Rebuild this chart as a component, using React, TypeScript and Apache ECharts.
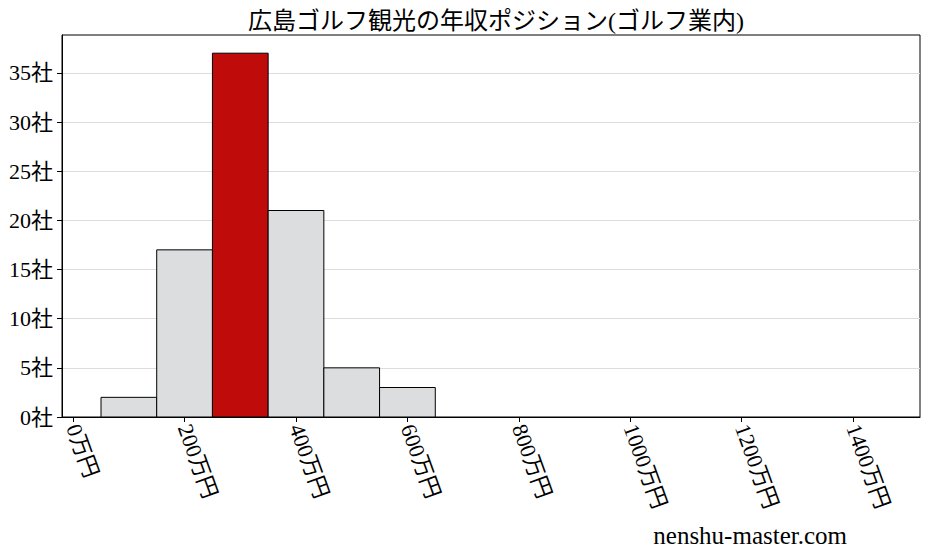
import React, { useEffect, useRef } from "react";
import * as echarts from "echarts";

const binStarts = [50, 150, 250, 350, 450, 550];
const binEnds = [150, 250, 350, 450, 550, 650];
const counts = [2, 17, 37, 21, 5, 3];
const highlightIndex = 2;
const xTicks = [0, 200, 400, 600, 800, 1000, 1200, 1400];
const yTicks = [0, 5, 10, 15, 20, 25, 30, 35];
const titleText = "広島ゴルフ観光の年収ポジション(ゴルフ業内)";
const watermark = "nenshu-master.com";

const FONT = "Liberation Serif, Noto Sans CJK JP, serif";

export default function App() {
  const ref = useRef<HTMLDivElement>(null);
  useEffect(() => {
    if (!ref.current) return;
    const chart = echarts.init(ref.current, null, { renderer: "svg" });
    const data = binStarts.map((s, i) => [s, binEnds[i], counts[i], i === highlightIndex ? 1 : 0]);
    chart.setOption({
      animation: false,
      backgroundColor: "#ffffff",
      textStyle: { fontFamily: FONT },
      title: {
        text: titleText,
        left: 491,
        textAlign: "center",
        top: 4,
        textStyle: { fontFamily: FONT, fontSize: 24, fontWeight: "normal", color: "#000" },
      },
      graphic: [
        {
          type: "text",
          right: 81,
          top: 523,
          style: { text: watermark, font: `25px ${FONT}`, fill: "#000" },
        },
      ],
      grid: {
        left: 62,
        right: 8,
        top: 35,
        bottom: 140,
        show: true,
        borderColor: "#000",
        borderWidth: 1,
        backgroundColor: "transparent",
      },
      xAxis: {
        type: "value",
        min: -20,
        max: 1520,
        axisLine: { show: true, onZero: false, lineStyle: { color: "#000", width: 1 } },
        axisTick: { show: true, customValues: xTicks, length: 5, lineStyle: { color: "#000" } },
        axisLabel: {
          customValues: xTicks,
          rotate: -70,
          margin: 8,
          fontSize: 22,
          fontFamily: FONT,
          color: "#000",
          formatter: (v: number) => `${v}万円`,
        },
        splitLine: { show: false },
      },
      yAxis: {
        type: "value",
        min: 0,
        max: 38.85,
        axisLine: { show: true, onZero: false, lineStyle: { color: "#000", width: 1 } },
        axisTick: { show: true, customValues: yTicks, length: 5, lineStyle: { color: "#000" } },
        axisLabel: {
          customValues: yTicks,
          margin: 9,
          fontSize: 22,
          fontFamily: FONT,
          color: "#000",
          formatter: (v: number) => `${v}社`,
        },
        splitLine: { show: true, lineStyle: { color: "#dddddd", width: 1 } },
      },
      series: [
        {
          type: "custom",
          data,
          encode: { x: [0, 1], y: 2 },
          renderItem: (params: any, api: any) => {
            const x0 = api.value(0);
            const x1 = api.value(1);
            const y = api.value(2);
            const hl = api.value(3);
            const p0 = api.coord([x0, y]);
            const p1 = api.coord([x1, 0]);
            return {
              type: "rect",
              shape: { x: p0[0], y: p0[1], width: p1[0] - p0[0], height: p1[1] - p0[1] },
              style: {
                fill: hl ? "#c00b0b" : "#dcdddf",
                stroke: "#000",
                lineWidth: 1,
              },
            };
          },
        },
      ],
    });
    return () => chart.dispose();
  }, []);
  return (
    <div
      ref={ref}
      style={{ position: "fixed", left: 0, top: 0, width: 928, height: 557 }}
    />
  );
}
